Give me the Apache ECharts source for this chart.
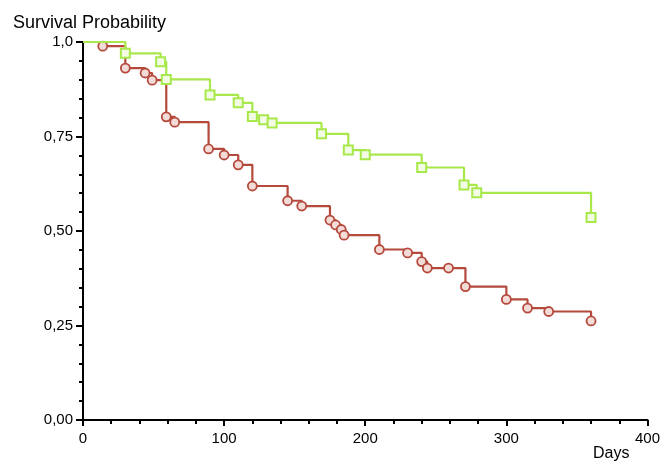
<!DOCTYPE html>
<html>
<head>
<meta charset="utf-8">
<script src="https://cdn.jsdelivr.net/npm/echarts@6/dist/echarts.min.js"></script>
<style>
  html, body { margin: 0; padding: 0; background: #fff; }
  #chart { width: 663px; height: 462px; }
</style>
</head>
<body>
<div id="chart"></div>
<script>
// red group: day of each step and survival after it
var redDays = [0, 14, 30, 44, 49, 59, 65, 89, 100, 110, 120, 145, 155, 175, 179, 183, 185, 210, 230, 240, 244, 259, 271, 300, 315, 330, 360];
var redSurv = [1, 0.989, 0.931, 0.918, 0.899, 0.802, 0.788, 0.717, 0.701, 0.675, 0.619, 0.580, 0.566, 0.529, 0.516, 0.504, 0.489, 0.451, 0.442, 0.419, 0.402, 0.402, 0.353, 0.319, 0.296, 0.287, 0.262];
// green group
var greenDays = [0, 30, 55, 59, 90, 110, 120, 128, 134, 169, 188, 200, 240, 270, 279, 360];
var greenSurv = [1, 0.970, 0.948, 0.901, 0.860, 0.839, 0.803, 0.794, 0.786, 0.757, 0.714, 0.702, 0.668, 0.622, 0.601, 0.536];
// axis tick labels
var yTickValues = [0, 0.25, 0.5, 0.75, 1];
var yTickLabels = ['0,00', '0,25', '0,50', '0,75', '1,0'];

var redColor = '#b4493c';
var greenColor = '#a8e84a';

function pairs(xs, ys) {
  return xs.map(function (x, i) { return [x, ys[i]]; });
}
// no marker on the starting point
function markSize(val, params) {
  return params.dataIndex === 0 ? 0 : 9;
}

var chart = echarts.init(document.getElementById('chart'));
var option = {
  animation: false,
  backgroundColor: '#fff',
  textStyle: { fontFamily: 'Liberation Sans, Arial, sans-serif' },
  title: {
    text: 'Survival Probability',
    left: 8,
    top: 9,
    textStyle: { fontSize: 18, fontWeight: 'normal', color: '#000', fontFamily: 'Liberation Sans, Arial, sans-serif' }
  },
  graphic: [{
    type: 'text',
    left: 593,
    top: 446,
    style: { text: 'Days', fontSize: 16, fill: '#000', fontFamily: 'Liberation Sans, Arial, sans-serif' }
  }],
  grid: { left: 83, right: 13, top: 42, bottom: 42 },
  xAxis: {
    type: 'value',
    min: 0,
    max: 400,
    interval: 100,
    axisLine: { lineStyle: { color: '#000', width: 2 } },
    axisTick: { length: 6, lineStyle: { color: '#000', width: 2 } },
    minorTick: { show: true, splitNumber: 5, length: 4, lineStyle: { color: '#000', width: 2 } },
    axisLabel: { color: '#000', fontSize: 15, margin: 11 },
    splitLine: { show: false }
  },
  yAxis: {
    type: 'value',
    min: 0,
    max: 1,
    interval: 0.25,
    axisLine: { show: true, lineStyle: { color: '#000', width: 2 } },
    axisTick: { show: true, length: 7, lineStyle: { color: '#000', width: 2 } },
    minorTick: { show: true, splitNumber: 5, length: 4, lineStyle: { color: '#000', width: 2 } },
    axisLabel: {
      color: '#000',
      fontSize: 15,
      margin: 10,
      formatter: function (v) {
        var i = yTickValues.indexOf(Math.round(v * 100) / 100);
        return i >= 0 ? yTickLabels[i] : '';
      }
    },
    splitLine: { show: false }
  },
  series: [
    {
      name: 'green',
      type: 'line',
      step: 'end',
      data: pairs(greenDays, greenSurv),
      lineStyle: { color: greenColor, width: 2.2 },
      symbol: 'rect',
      symbolSize: markSize,
      itemStyle: { color: '#f2fce4', borderColor: greenColor, borderWidth: 2 },
      z: 3
    },
    {
      name: 'red',
      type: 'line',
      step: 'end',
      data: pairs(redDays, redSurv),
      lineStyle: { color: redColor, width: 2.2 },
      symbol: 'circle',
      symbolSize: markSize,
      itemStyle: { color: '#f3dcd8', borderColor: redColor, borderWidth: 1.8 },
      z: 2
    }
  ]
};
chart.setOption(option);
window.addEventListener('resize', function () { chart.resize(); });
</script>
</body>
</html>
